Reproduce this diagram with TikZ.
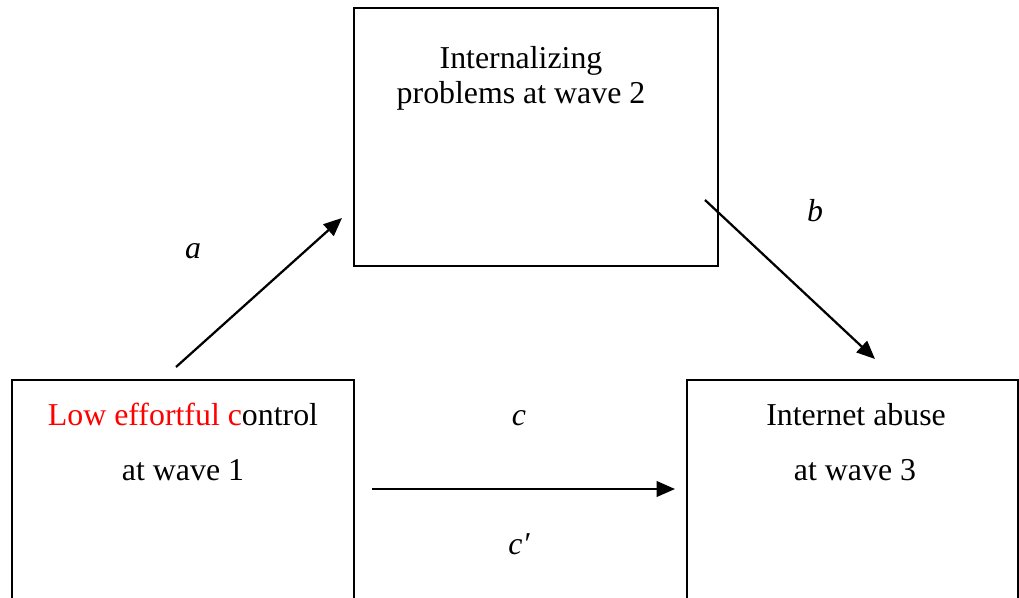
\documentclass[tikz,border=0pt]{standalone}
\usepackage{fontspec}
\setmainfont{Liberation Serif}
\usetikzlibrary{arrows.meta,positioning}

\begin{document}
\begin{tikzpicture}[
    x=0.025cm, y=-0.025cm,
    box/.style={draw, line width=1.7pt, inner sep=0pt},
    txt/.style={anchor=base, inner sep=0pt, font=\fontsize{22.65}{27}\selectfont},
    lbl/.style={anchor=base, inner sep=0pt, font=\fontsize{22.65}{27}\selectfont\itshape},
    arr/.style={-{Triangle[length=13pt,width=11pt]}, line width=1.6pt}
  ]
  \useasboundingbox (0,0) rectangle (1019,598);
  \clip (0,0) rectangle (1019,598);
  % boxes
  \node[box, minimum width=9.1cm, minimum height=6.45cm] (intern) at (536,137) {};
  \node[box, minimum width=8.54cm, minimum height=7cm] (effort) at (183,520) {};
  \node[box, minimum width=8.275cm, minimum height=7cm] (abuse) at (852.5,520) {};
  % box texts
  \node[txt] (intern1) at (521,68) {Internalizing};
  \node[txt] (intern2) at (521,103) {problems at wave 2};
  \node[txt] (effort1) at (183,425) {\textcolor{red}{Low effortful c}ontrol};
  \node[txt] (effort2) at (183,480) {at wave 1};
  \node[txt] (abuse1) at (856,425) {Internet abuse};
  \node[txt] (abuse2) at (855,480) {at wave 3};
  % path labels
  \node[lbl] (la) at (193,258) {a};
  \node[lbl] (lb) at (815,221) {b};
  \node[lbl] (lc) at (519,425) {c};
  \node[lbl] (lcp) at (519,554) {c′};
  % arrow ends
  \coordinate (aS) at (176,367);
  \coordinate (aE) at (342,218);
  \coordinate (bS) at (705,200);
  \coordinate (bE) at (875,359);
  \coordinate (cS) at (372,489);
  \coordinate (cE) at (675,489);
  \draw[arr] (aS) -- (aE);
  \draw[arr] (bS) -- (bE);
  \draw[arr] (cS) -- (cE);
\end{tikzpicture}
\end{document}
